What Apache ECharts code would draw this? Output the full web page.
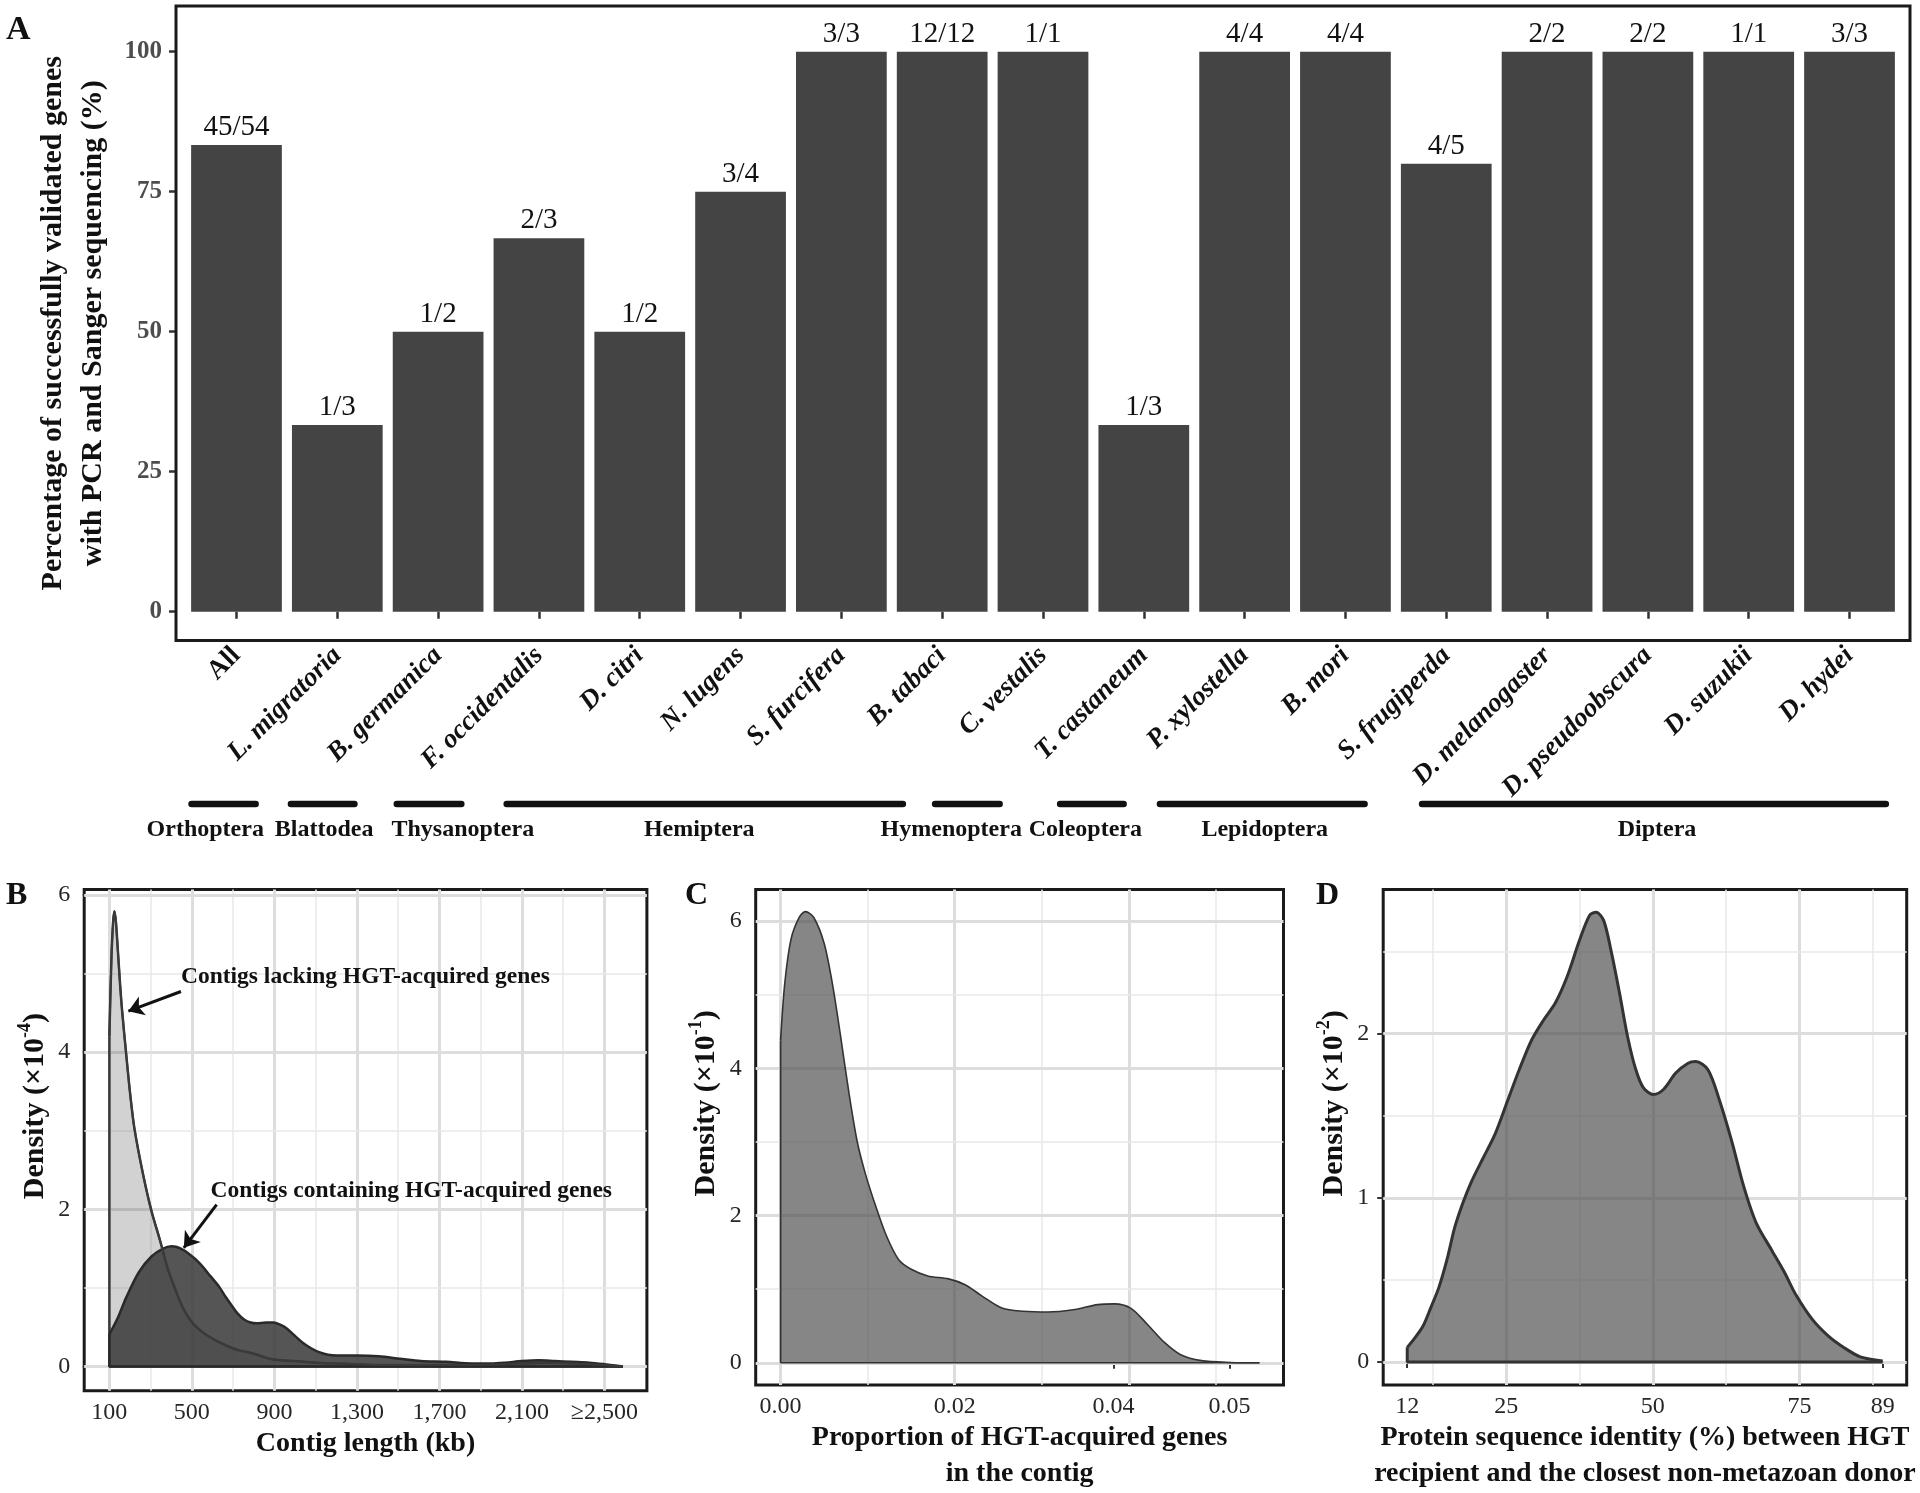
<!DOCTYPE html>
<html><head><meta charset="utf-8">
<script src="https://cdn.jsdelivr.net/npm/echarts@6/dist/echarts.min.js"></script>
<style>html,body{margin:0;padding:0;background:#fff}#c{width:1920px;height:1493px}</style>
</head><body><div id="c"></div>
<script>
// ---------- Panel A data ----------
const species = ['All','L. migratoria','B. germanica','F. occidentalis','D. citri','N. lugens','S. furcifera','B. tabaci','C. vestalis','T. castaneum','P. xylostella','B. mori','S. frugiperda','D. melanogaster','D. pseudoobscura','D. suzukii','D. hydei'];
const validated = [45,1,1,2,1,3,3,12,1,1,4,4,4,2,2,1,3];
const tested    = [54,3,2,3,2,4,3,12,1,3,4,4,5,2,2,1,3];
const percentTicks = [0,25,50,75,100];
// insect orders spanning the species axis (in category units, 0 = first category)
const orders       = ['Orthoptera','Blattodea','Thysanoptera','Hemiptera','Hymenoptera','Coleoptera','Lepidoptera','Diptera'];
const orderStart   = [-0.446, 0.54, 1.59, 2.68, 6.93, 8.17, 9.16, 11.76];
const orderEnd     = [0.19, 1.17, 2.23, 6.61, 7.57, 8.80, 11.19, 16.36];
const orderLabelAt = [-0.31, 0.87, 2.245, 4.59, 7.09, 8.42, 10.2, 14.09];

// ---------- Panel B data ----------
const bLackX = [100,110,118,124.5,132,141,151,161,182,202,222,263,304,345,386,420,447,480,508,550,590,640,692,740,794,840,876,930,998,1100,1202,1300,1406,1600,1800,2018,2222,2427,2590];
const bLackY = [4.2,5.2,5.65,5.79,5.65,5.3,4.9,4.55,3.96,3.44,3.02,2.45,1.98,1.61,1.22,0.98,0.8,0.64,0.54,0.44,0.37,0.3,0.24,0.2,0.17,0.13,0.1,0.08,0.07,0.05,0.04,0.03,0.02,0.02,0.02,0.03,0.05,0.03,0.0];
const bContX = [100,141,182,243,304,360,400,427,460,488,520,549,590,631,660,692,720,753,785,814,860,896,930,957,1000,1039,1080,1120,1160,1202,1300,1406,1508,1610,1733,1855,1950,2018,2100,2182,2260,2340,2427,2500,2590];
const bContY = [0.41,0.62,0.88,1.20,1.40,1.50,1.53,1.52,1.48,1.43,1.36,1.28,1.15,1.02,0.9,0.78,0.68,0.6,0.56,0.55,0.56,0.56,0.53,0.49,0.39,0.3,0.23,0.18,0.15,0.14,0.14,0.13,0.1,0.07,0.06,0.04,0.04,0.05,0.07,0.08,0.07,0.06,0.05,0.03,0.0];
const bTickVals = [100,500,900,1300,1700,2100,2500];
const bTickText = ['100','500','900','1,300','1,700','2,100','\u22652,500'];
const bYTicks = [0,2,4,6];
const bNoteText = ['Contigs lacking HGT-acquired genes','Contigs containing HGT-acquired genes'];
const bNoteAt = [[447,4.96],[590,2.24]];
const bArrowFrom = [[447,4.77],[620,2.06]];
const bArrowTo = [[192,4.52],[461,1.51]];

// ---------- Panel C data (x in axis units) ----------
const cX = [0,0.000476,0.00119,0.00214,0.00286,0.00381,0.005,0.00595,0.0069,0.00786,0.00881,0.00976,0.01095,0.01214,0.01357,0.015,0.0169,0.01929,0.02119,0.0231,0.02548,0.02786,0.03071,0.03357,0.03643,0.03833,0.04024,0.04214,0.04405,0.04595,0.04833,0.05167,0.055];
const cY = [4.38,5.15,5.75,6.05,6.13,6.05,5.70,5.15,4.43,3.66,3.00,2.56,2.12,1.73,1.40,1.27,1.18,1.14,1.06,0.91,0.74,0.70,0.69,0.72,0.79,0.80,0.74,0.52,0.28,0.11,0.03,0.005,0];
const cTickPos = [0,0.02,0.03824,0.05157];
const cTickText = ['0.00','0.02','0.04','0.05'];
const cYTicks = [0,2,4,6];

// ---------- Panel D data (x in axis units) ----------
const dX = [8.1,9.4,10.8,12.1,13.5,14.9,16.2,17.6,19.0,21.0,23.1,25.2,27.2,29.3,31.3,33.4,35.4,37.5,39.2,40.3,41.6,42.9,44.3,45.7,47.1,48.4,50.1,51.8,53.9,56.0,57.3,59.4,61.4,63.5,65.5,67.6,70.3,72.4,74.4,77.2,79.9,82.7,85.4,89.2];
const dY = [0.09,0.148,0.22,0.33,0.455,0.627,0.82,0.97,1.095,1.24,1.39,1.59,1.78,1.96,2.08,2.19,2.35,2.57,2.72,2.74,2.69,2.50,2.25,1.98,1.78,1.67,1.63,1.66,1.76,1.82,1.83,1.78,1.59,1.34,1.07,0.85,0.68,0.55,0.41,0.26,0.16,0.086,0.032,0.007];
const dTickPos = [8.1,25,50,75,89.2];
const dTickText = ['12','25','50','75','89'];
const dYTicks = [0,1,2];

// ---------- helpers ----------
const FONT = '"Liberation Serif","Times New Roman","DejaVu Serif",serif';
const zip = (xs, ys) => xs.map((x, i) => [x, ys[i]]);
const pick = (pos, txt) => v => { let b = 0; pos.forEach((p, i) => { if (Math.abs(p - v) < Math.abs(pos[b] - v)) b = i; }); return txt[b]; };
const MAJ = {color:'#dddddd', width:3, type:'solid'};
const MIN = {color:'#e8e8e8', width:1.5, type:'solid'};
function gridSeries(ix, xMaj, xMin, yMaj, yMin) {
  const d = [].concat(
    xMaj.map(v => ({xAxis: v, lineStyle: MAJ})), xMin.map(v => ({xAxis: v, lineStyle: MIN})),
    yMaj.map(v => ({yAxis: v, lineStyle: MAJ})), yMin.map(v => ({yAxis: v, lineStyle: MIN})));
  return {type:'line', xAxisIndex: ix, yAxisIndex: ix, data: [], silent: true, z: 1,
    markLine: {silent: true, symbol: ['none','none'], label: {show: false}, animation: false, z: 1, data: d}};
}
function densitySeries(ix, pts, fill, lineColor, lw, z) {
  return {type:'line', xAxisIndex: ix, yAxisIndex: ix, data: pts, smooth: 0.3, symbol: 'none', z: z,
    lineStyle: {color: lineColor, width: lw}, areaStyle: {color: fill, opacity: 1, origin: 0}};
}
function edgeSeries(ix, pts, lineColor, lw, z) {
  const x0 = pts[0][0], y0 = pts[0][1], xN = pts[pts.length - 1][0];
  return {type:'line', xAxisIndex: ix, yAxisIndex: ix, data: [[x0, y0], [x0, 0], [xN, 0]], smooth: false,
    symbol: 'none', z: z, lineStyle: {color: lineColor, width: lw}};
}
function valueX(ix, min, max, pos, txt, title, gap) {
  return {type:'value', gridIndex: ix, min: min, max: max,
    axisLine: {show: false}, splitLine: {show: false},
    axisTick: {show: true, length: 6, customValues: pos, lineStyle: {color: '#333', width: 2}},
    axisLabel: {customValues: pos, formatter: pick(pos, txt), fontFamily: FONT, fontSize: 24, color: '#262626', margin: 10},
    name: title, nameLocation: 'middle', nameGap: gap,
    nameTextStyle: {fontFamily: FONT, fontSize: 28, fontWeight: 'bold', color: '#111', lineHeight: 36}};
}
function valueY(ix, min, max, ticks, exp) {
  return {type:'value', gridIndex: ix, min: min, max: max,
    axisLine: {show: false}, splitLine: {show: false},
    axisTick: {show: true, length: 6, customValues: ticks, lineStyle: {color: '#333', width: 2}},
    axisLabel: {customValues: ticks, fontFamily: FONT, fontSize: 24, color: '#262626', margin: 14},
    name: '{m|Density (\u00d710}{s|-' + exp + '}{m|)}', nameLocation: 'middle', nameGap: 34,
    nameTextStyle: {fontFamily: FONT, fontSize: 30, fontWeight: 'bold', color: '#111', padding: [0, 0, 0, 68],
      rich: {m: {fontFamily: FONT, fontSize: 30, fontWeight: 'bold', color: '#111', lineHeight: 34, verticalAlign: 'bottom'},
             s: {fontFamily: FONT, fontSize: 18, fontWeight: 'bold', color: '#111', lineHeight: 34, verticalAlign: 'top'}}}};
}

const pct = validated.map((v, i) => v / tested[i] * 100);
const frameA = {L: 176, T: 6, R: 1910, B: 640.5};
const band = (frameA.R - frameA.L) / (species.length + 0.2);
const gridA = {left: frameA.L + 0.1 * band, top: frameA.T, width: band * species.length, height: frameA.B - frameA.T};

const chart = echarts.init(document.getElementById('c'), null, {renderer: 'canvas'});
chart.setOption({
  animation: false,
  backgroundColor: '#ffffff',
  grid: [
    gridA,
    {left: 84.2, top: 889.5, width: 562.7, height: 501.3, show: true, borderColor: '#1a1a1a', borderWidth: 3, backgroundColor: 'transparent'},
    {left: 755.7, top: 889.5, width: 527.8, height: 501.5, show: true, borderColor: '#1a1a1a', borderWidth: 3, backgroundColor: 'transparent'},
    {left: 1383.2, top: 889.5, width: 523.5, height: 502, show: true, borderColor: '#1a1a1a', borderWidth: 3, backgroundColor: 'transparent'},
    {left: gridA.left, top: 790, width: gridA.width, height: 55}
  ],
  xAxis: [
    {type: 'category', gridIndex: 0, data: species,
      axisLine: {show: false},
      axisTick: {show: true, alignWithLabel: true, length: 7, lineStyle: {color: '#333', width: 2.5}},
      axisLabel: {interval: 0, rotate: 45, margin: 11,
        formatter: v => v === 'All' ? '{n|' + v + '}' : '{i|' + v + '}',
        rich: {n: {fontFamily: FONT, fontSize: 27, fontWeight: 'bold', color: '#111'},
               i: {fontFamily: FONT, fontSize: 27, fontWeight: 'bold', fontStyle: 'italic', color: '#111'}}}},
    valueX(1, -22, 2706, bTickVals, bTickText, 'Contig length (kb)', 22),
    valueX(2, -0.002857, 0.05776, cTickPos, cTickText, 'Proportion of HGT-acquired genes\nin the contig', 28),
    valueX(3, 4.0, 93.3, dTickPos, dTickText, 'Protein sequence identity (%) between HGT\nrecipient and the closest non-metazoan donor', 28),
    {type: 'value', gridIndex: 4, min: -0.5, max: 16.5, show: false}
  ],
  yAxis: [
    {type: 'value', gridIndex: 0, min: -5.15, max: 108.15, offset: 0.1 * band,
      axisLine: {show: false}, splitLine: {show: false},
      axisTick: {show: true, length: 7, customValues: percentTicks, lineStyle: {color: '#333', width: 2.5}},
      axisLabel: {customValues: percentTicks, fontFamily: FONT, fontSize: 25, fontWeight: 'bold', color: '#4d4d4d', margin: 14},
      name: 'Percentage of successfully validated genes\nwith PCR and Sanger sequencing (%)',
      nameLocation: 'middle', nameGap: 57,
      nameTextStyle: {fontFamily: FONT, fontSize: 30, fontWeight: 'bold', color: '#111', lineHeight: 40}},
    valueY(1, -0.308, 6.0675, bYTicks, 4),
    valueY(2, -0.303, 6.43, cYTicks, 1),
    valueY(3, -0.14, 2.878, dYTicks, 2),
    {type: 'value', gridIndex: 4, min: 0, max: 1, show: false}
  ],
  series: [
    {type: 'bar', xAxisIndex: 0, yAxisIndex: 0, barWidth: '90%',
      data: pct, itemStyle: {color: '#444444'},
      label: {show: true, position: 'top', distance: 3, fontFamily: FONT, fontSize: 29, color: '#111',
        formatter: p => validated[p.dataIndex] + '/' + tested[p.dataIndex]}},
    {type: 'custom', xAxisIndex: 4, yAxisIndex: 4, silent: true, clip: false,
      data: orders.map((n, i) => [orderStart[i], orderEnd[i], orderLabelAt[i], 0]),
      encode: {x: [0, 1, 2], y: 3},
      renderItem: (params, api) => {
        const s = api.coord([api.value(0), 0.745]);
        const e = api.coord([api.value(1), 0.745]);
        const t = api.coord([api.value(2), 0.273]);
        return {type: 'group', children: [
          {type: 'line', shape: {x1: s[0], y1: s[1], x2: e[0], y2: e[1]}, style: {stroke: '#111', lineWidth: 6.5, lineCap: 'round'}},
          {type: 'text', style: {text: orders[params.dataIndex], x: t[0], y: t[1], align: 'center', verticalAlign: 'middle',
            fontFamily: FONT, fontSize: 24, fontWeight: 'bold', fill: '#111'}}
        ]};
      }},
    // Panel B
    gridSeries(1, bTickVals, [300,700,1100,1500,1900,2300], [0,2,4,6], [1,3,5]),
    densitySeries(1, zip(bLackX, bLackY), 'rgba(77,77,77,0.25)', '#3a3a3a', 2.5, 2),
    edgeSeries(1, zip(bLackX, bLackY), '#3a3a3a', 2.5, 2),
    densitySeries(1, zip(bContX, bContY), 'rgba(60,60,60,0.87)', '#2a2a2a', 2.5, 3),
    edgeSeries(1, zip(bContX, bContY), '#2a2a2a', 2.5, 3),
    {type: 'line', xAxisIndex: 1, yAxisIndex: 1, data: zip(bLackX, bLackY), smooth: 0.3, symbol: 'none', z: 4,
      lineStyle: {color: '#3a3a3a', width: 2}},
    {type: 'scatter', xAxisIndex: 1, yAxisIndex: 1, symbolSize: 0, z: 6, silent: true,
      itemStyle: {opacity: 1},
      data: bNoteAt.map((p, i) => ({value: p, name: bNoteText[i]})),
      label: {show: true, position: 'right', distance: 0, formatter: '{b}', fontFamily: FONT, fontSize: 23.5, fontWeight: 'bold', color: '#111'}},
    {type: 'line', xAxisIndex: 1, yAxisIndex: 1, data: [], z: 6,
      markLine: {silent: true, symbol: ['none', 'arrow'], symbolSize: 15, label: {show: false}, animation: false,
        lineStyle: {color: '#111', width: 3, type: 'solid', opacity: 1},
        data: bArrowFrom.map((f, i) => [{coord: f}, {coord: bArrowTo[i]}])}},
    // Panel C
    gridSeries(2, [0, 0.02, 0.03824, 0.05571], [0.00919, 0.02752, 0.04595], [0,2,4,6], [1,3,5]),
    densitySeries(2, zip(cX, cY), 'rgba(77,77,77,0.68)', '#333', 1.6, 2),
    edgeSeries(2, zip(cX, cY), '#333', 1.6, 2),
    // Panel D
    gridSeries(3, [25, 50, 75], [12.5, 37.5, 62.5, 87.5], [0,1,2], [0.5,1.5,2.5]),
    densitySeries(3, zip(dX, dY), 'rgba(77,77,77,0.68)', '#333', 3, 2),
    edgeSeries(3, zip(dX, dY), '#333', 3, 2)
  ],
  graphic: [
    {type: 'rect', silent: true, z: 10, shape: {x: frameA.L, y: frameA.T, width: frameA.R - frameA.L, height: frameA.B - frameA.T},
      style: {fill: 'none', stroke: '#1a1a1a', lineWidth: 3}},
    {type: 'text', silent: true, style: {text: 'A', x: 6, y: 30, verticalAlign: 'middle', fontFamily: FONT, fontSize: 34, fontWeight: 'bold', fill: '#111'}},
    {type: 'text', silent: true, style: {text: 'B', x: 6, y: 896, verticalAlign: 'middle', fontFamily: FONT, fontSize: 32, fontWeight: 'bold', fill: '#111'}},
    {type: 'text', silent: true, style: {text: 'C', x: 685, y: 896, verticalAlign: 'middle', fontFamily: FONT, fontSize: 32, fontWeight: 'bold', fill: '#111'}},
    {type: 'text', silent: true, style: {text: 'D', x: 1316, y: 896, verticalAlign: 'middle', fontFamily: FONT, fontSize: 32, fontWeight: 'bold', fill: '#111'}}
  ]
});
</script></body></html>
